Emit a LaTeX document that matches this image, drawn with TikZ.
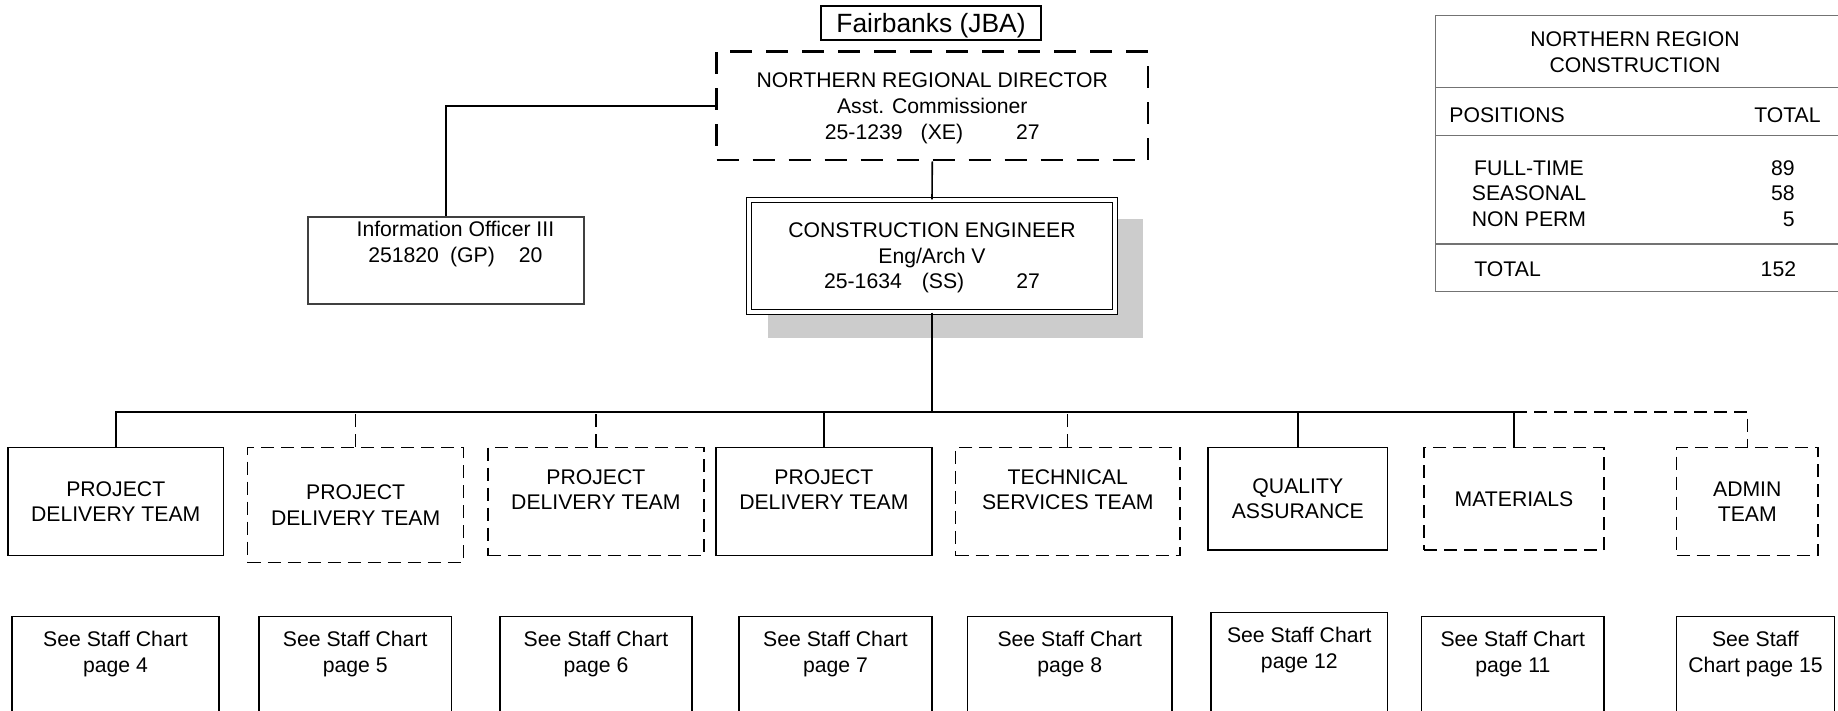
\documentclass[tikz,border=0pt]{standalone}
\usepackage{fontspec}
\setmainfont{Liberation Sans}
\usetikzlibrary{backgrounds, positioning}

\newcommand{\orgfont}{\fontsize{10.6pt}{12.8pt}\selectfont}

\tikzset{
  txt/.style={font=\orgfont, align=center, inner sep=0pt},
  unit/.style={txt, draw, line width=0.75pt},
  dashunit/.style={unit, line width=0.65pt, dash pattern=on 6.5pt off 3.5pt},
  chart/.style={unit, anchor=north, minimum height=80pt},
  link/.style={line width=0.8pt},
  dashlink/.style={line width=0.65pt, dash pattern=on 6.5pt off 3.5pt},
  tbl/.style={draw=black!55, line width=0.6pt},
}

\begin{document}
\begin{tikzpicture}[x=0.5pt, y=-0.5pt]
  \clip (0,0) rectangle (1838,711);

  % director and engineer
  \node[unit, font=\fontsize{13.2pt}{15pt}\selectfont, text depth=0pt, minimum width=110pt, minimum height=17pt] (city) at (931,23) {Fairbanks (JBA)};
  \node[unit, line width=1.35pt, dash pattern=on 11pt off 7pt, minimum width=215.75pt, minimum height=54.15pt] (nrd) at (932.3,105.9) {};
  \node[txt] (nrdt) at ([yshift=-1.2pt]nrd.center) {NORTHERN REGIONAL DIRECTOR\\Asst. Commissioner\\25-1239\hspace{9pt}(XE)\hspace{26.5pt}27};
  \node[unit, minimum width=138pt, minimum height=43.5pt, draw=black!75, line width=0.6pt] (info) at (446,260.5) {};
  \node[txt] (infot) at ([xshift=4.7pt, yshift=8.1pt]info.center) {Information Officer III\\251820\hspace{5.6pt}(GP)\hspace{12pt}20};
  \node[unit, fill=white, double=white, double distance=1.8pt, line width=0.7pt, minimum width=183.25pt, minimum height=56pt] (ce) at (932,256) {};
  \node[txt] (cet) at ([yshift=-0.9pt]ce.center) {CONSTRUCTION ENGINEER\\Eng/Arch V\\25-1634\hspace{10pt}(SS)\hspace{26pt}27};
  \begin{scope}[on background layer]
    \fill[black!20] ([shift={(20,20)}]ce.north west) rectangle ([shift={(27,25)}]ce.south east);
  \end{scope}

  \draw[link] (nrd.west) -| (info.north);
  \draw[link] (nrd.south) -- (ce.north);
  \coordinate (bus) at (932,412);
  \draw[link] (ce.south) -- (bus);

  % teams
  \node[unit, minimum width=107.85pt, minimum height=54pt] (pdt1) at (115.75,501.7) {PROJECT\\DELIVERY TEAM};
  \node[dashunit, minimum width=107.85pt, minimum height=57.3pt] (pdt2) at (355.65,505) {PROJECT\\DELIVERY TEAM};
  \node[dashunit, minimum width=108pt, minimum height=54pt] (pdt3) at (595.85,501.7) {};
  \node[txt] (pdt3t) at ([yshift=6pt]pdt3.center) {PROJECT\\DELIVERY TEAM};
  \node[unit, minimum width=108pt, minimum height=54pt] (pdt4) at (823.9,501.7) {};
  \node[txt] (pdt4t) at ([yshift=6pt]pdt4.center) {PROJECT\\DELIVERY TEAM};
  \node[dashunit, minimum width=112.2pt, minimum height=54pt] (tech) at (1067.8,501.7) {};
  \node[txt] (techt) at ([yshift=6pt]tech.center) {TECHNICAL\\SERVICES TEAM};
  \node[unit, minimum width=89.8pt, minimum height=51.15pt] (qa) at (1297.8,498.85) {QUALITY\\ASSURANCE};
  \node[dashunit, minimum width=90pt, minimum height=51.15pt] (mat) at (1514,498.85) {MATERIALS};
  \node[dashunit, minimum width=70.75pt, minimum height=54pt] (adm) at (1747.25,501.7) {ADMIN\\TEAM};

  \draw[link] (pdt1.north) |- (mat.north |- bus) -- (mat.north);
  \draw[dashlink] (mat.north |- bus) -| (adm.north);
  \foreach \t in {pdt4, qa}
    \draw[link] (\t.north) -- (\t.north |- bus);
  \foreach \t in {pdt2, pdt3, tech}
    \draw[dashlink] (\t.north) -- (\t.north |- bus);

  % staff chart references
  \foreach \p/\x/\y/\w in {4/115.5/615.7/103.5, 5/355.2/615.7/96.2, 6/596/615.7/96, 7/835.5/615.7/96.5, 8/1069.8/615.7/102.2, 12/1299.3/611.7/88.3, 11/1512.8/615.7/91.2} {
    \node[chart, minimum width=\w pt] (c\p) at (\x,\y) {};
    \node[txt] (see\p) at ([yshift=-19.2pt]c\p.north) {See Staff Chart\\page \p};
  }
  \node[chart, minimum width=79pt] (c15) at (1755.45,615.7) {};
  \node[txt] (see15) at ([yshift=-19.2pt]c15.north) {See Staff\\Chart page 15};

  % position totals
  \draw[tbl] (1845,15.7) -- (1435.7,15.7) -- (1435.7,291.7) -- (1845,291.7);
  \foreach \r in {87.7, 135.7, 244}
    \draw[tbl] (1435.7,\r) -- (1845,\r);
  \node[txt] (tbltitle) at (1635,52) {NORTHERN REGION\\CONSTRUCTION};
  \node[txt, anchor=west] (poshead) at (1449,115.5) {POSITIONS};
  \node[txt, anchor=east] (tothead) at (1821,115.5) {TOTAL};
  \node[txt] (kinds) at (1529,193.5) {FULL-TIME\\SEASONAL\\NON PERM};
  \node[txt, align=right, anchor=east] (counts) at (1795,193.5) {89\\58\\5};
  \node[txt, anchor=west] (sumlabel) at (1474,269.5) {TOTAL};
  \node[txt, anchor=east] (sum) at (1796.5,269.5) {152};
\end{tikzpicture}
\end{document}
